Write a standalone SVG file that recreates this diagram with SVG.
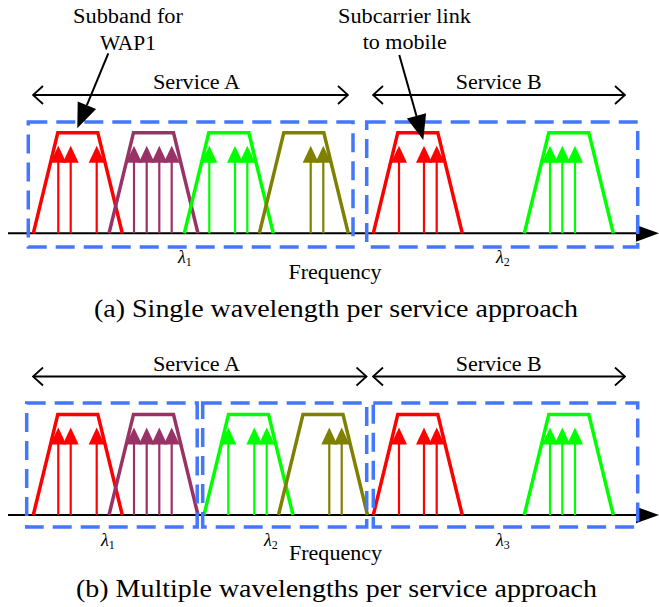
<svg xmlns="http://www.w3.org/2000/svg" xmlns:xlink="http://www.w3.org/1999/xlink" width="659" height="607" viewBox="0 0 659 607" font-family="'Times New Roman', 'Liberation Serif', Times, serif">
  <style>
    text { font-family: "Times New Roman", "Liberation Serif", Times, serif; fill: #000; }
    .lbl { font-size: 20px; }
    .cap { font-size: 26px; }
    .lam { font-size: 18px; font-style: italic; }
    .sub { font-size: 12px; font-style: normal; }
    .axis { stroke: #000; stroke-width: 2; fill: none; }
    .span { stroke: #000; stroke-width: 1.8; fill: none; }
    .box { stroke: #4477ff; stroke-width: 3.5; fill: none; stroke-dasharray: 19 9; }
    .red { color: #ff0000; }
    .pur { color: #993366; }
    .grn { color: #00ff00; }
    .olv { color: #808000; }
  </style>
  <defs>
    <!-- filter passband outline, anchored at its lower-left foot on the axis -->
    <path id="band" d="M0,0 L24.5,-100.6 L64.5,-100.6 L89,0" fill="none" stroke="currentColor" stroke-width="3.5" stroke-linejoin="miter"/>
    <!-- single subcarrier: stem plus filled head -->
    <g id="carrier">
      <line x1="0" y1="0" x2="0" y2="-72" stroke="currentColor" stroke-width="2.2"/>
      <path d="M-8,-70.6 L0,-87.6 L8,-70.6 Z" fill="currentColor"/>
    </g>
    <marker id="open" viewBox="0 0 12 20" refX="11" refY="10" markerWidth="12" markerHeight="20" markerUnits="userSpaceOnUse" orient="auto-start-reverse">
      <path d="M1,1 L11,10 L1,19" fill="none" stroke="#000" stroke-width="1.8"/>
    </marker>
  </defs>

  <!-- ===== (a) single wavelength per service ===== -->
  <g id="panel-a">
    <g id="a-axis">
      <line class="axis" x1="8" y1="233.3" x2="640" y2="233.3"/>
      <path d="M636,225 L659,233.3 L636,241.7 Z" fill="#000"/>
    </g>

    <g id="a-band-red" class="red" transform="translate(0,233.3)">
      <use xlink:href="#band" x="33.3"/>
      <use xlink:href="#carrier" x="58.3"/>
      <use xlink:href="#carrier" x="70.7"/>
      <use xlink:href="#carrier" x="96.7"/>
    </g>
    <g id="a-band-purple" class="pur" transform="translate(0,233.3)">
      <use xlink:href="#band" x="109"/>
      <use xlink:href="#carrier" x="134"/>
      <use xlink:href="#carrier" x="146.7"/>
      <use xlink:href="#carrier" x="159.3"/>
      <use xlink:href="#carrier" x="171.7"/>
    </g>
    <g id="a-band-green" class="grn" transform="translate(0,233.3)">
      <use xlink:href="#band" x="184.3"/>
      <use xlink:href="#carrier" x="209.3"/>
      <use xlink:href="#carrier" x="235"/>
      <use xlink:href="#carrier" x="247.3"/>
    </g>
    <g id="a-band-olive" class="olv" transform="translate(0,233.3)">
      <use xlink:href="#band" x="259.3"/>
      <use xlink:href="#carrier" x="310.7"/>
      <use xlink:href="#carrier" x="323.3"/>
    </g>
    <g id="a-band-red-b" class="red" transform="translate(0,233.3)">
      <use xlink:href="#band" x="373.3"/>
      <use xlink:href="#carrier" x="399"/>
      <use xlink:href="#carrier" x="424"/>
      <use xlink:href="#carrier" x="436.7"/>
    </g>
    <g id="a-band-green-b" class="grn" transform="translate(0,233.3)">
      <use xlink:href="#band" x="524.3"/>
      <use xlink:href="#carrier" x="550"/>
      <use xlink:href="#carrier" x="562.3"/>
      <use xlink:href="#carrier" x="575"/>
    </g>

    <g id="a-lambda1">
      <rect class="box" x="28.3" y="122" width="324.7" height="125"/>
      <text class="lam" x="178" y="263">λ<tspan class="sub" dy="3">1</tspan></text>
    </g>
    <g id="a-lambda2">
      <rect class="box" x="366.7" y="122" width="271" height="125"/>
      <text class="lam" x="496" y="263">λ<tspan class="sub" dy="3">2</tspan></text>
    </g>

    <g id="a-service-a">
      <line class="span" x1="33" y1="95" x2="348" y2="95" marker-start="url(#open)" marker-end="url(#open)"/>
      <text class="lbl" x="153" y="89" textLength="87" lengthAdjust="spacingAndGlyphs">Service A</text>
    </g>
    <g id="a-service-b">
      <line class="span" x1="373" y1="95" x2="625" y2="95" marker-start="url(#open)" marker-end="url(#open)"/>
      <text class="lbl" x="455.7" y="89" textLength="86" lengthAdjust="spacingAndGlyphs">Service B</text>
    </g>

    <g id="a-note-subband">
      <text class="lbl" x="73" y="23.3" textLength="110" lengthAdjust="spacingAndGlyphs">Subband for</text>
      <text class="lbl" x="100" y="50" textLength="56" lengthAdjust="spacingAndGlyphs">WAP1</text>
    </g>
    <g id="a-note-subcarrier">
      <text class="lbl" x="338" y="22.7" textLength="133" lengthAdjust="spacingAndGlyphs">Subcarrier link</text>
      <text class="lbl" x="362.7" y="49.3" textLength="84" lengthAdjust="spacingAndGlyphs">to mobile</text>
    </g>

    <text class="lbl" x="288.5" y="278.5" textLength="93" lengthAdjust="spacingAndGlyphs">Frequency</text>
    <text class="cap" x="94" y="317" textLength="484" lengthAdjust="spacingAndGlyphs">(a) Single wavelength per service approach</text>
  </g>

  <!-- callout pointers -->
  <g id="connectors">
    <line x1="108.3" y1="53.3" x2="86.9" y2="105.2" stroke="#000" stroke-width="2"/>
    <path d="M77.3,128.3 L96.1,109 L77.7,101.4 Z" fill="#000"/>
    <line x1="399.3" y1="55" x2="416.5" y2="115.9" stroke="#000" stroke-width="2"/>
    <path d="M423.3,140 L426.1,113.2 L406.9,118.6 Z" fill="#000"/>
  </g>

  <!-- ===== (b) multiple wavelengths per service ===== -->
  <g id="panel-b">
    <g id="b-axis">
      <line class="axis" x1="8" y1="515" x2="640" y2="515"/>
      <path d="M636,506.7 L659,515 L636,523.3 Z" fill="#000"/>
    </g>

    <g id="b-band-red" class="red" transform="translate(0,515)">
      <use xlink:href="#band" x="33.3"/>
      <use xlink:href="#carrier" x="58.3"/>
      <use xlink:href="#carrier" x="70.7"/>
      <use xlink:href="#carrier" x="96.7"/>
    </g>
    <g id="b-band-purple" class="pur" transform="translate(0,515)">
      <use xlink:href="#band" x="109"/>
      <use xlink:href="#carrier" x="134"/>
      <use xlink:href="#carrier" x="146.7"/>
      <use xlink:href="#carrier" x="159.3"/>
      <use xlink:href="#carrier" x="171.7"/>
    </g>
    <g id="b-band-green" class="grn" transform="translate(0,515)">
      <use xlink:href="#band" x="204"/>
      <use xlink:href="#carrier" x="228.3"/>
      <use xlink:href="#carrier" x="254.3"/>
      <use xlink:href="#carrier" x="266.7"/>
    </g>
    <g id="b-band-olive" class="olv" transform="translate(0,515)">
      <use xlink:href="#band" x="278.5"/>
      <use xlink:href="#carrier" x="329.3"/>
      <use xlink:href="#carrier" x="341.7"/>
    </g>
    <g id="b-band-red-b" class="red" transform="translate(0,515)">
      <use xlink:href="#band" x="373.3"/>
      <use xlink:href="#carrier" x="399"/>
      <use xlink:href="#carrier" x="424"/>
      <use xlink:href="#carrier" x="436.7"/>
    </g>
    <g id="b-band-green-b" class="grn" transform="translate(0,515)">
      <use xlink:href="#band" x="524.3"/>
      <use xlink:href="#carrier" x="550"/>
      <use xlink:href="#carrier" x="562.3"/>
      <use xlink:href="#carrier" x="575"/>
    </g>

    <g id="b-lambda1">
      <rect class="box" x="26.7" y="403" width="170.5" height="124"/>
      <text class="lam" x="101" y="546">λ<tspan class="sub" dy="3">1</tspan></text>
    </g>
    <g id="b-lambda2">
      <rect class="box" x="202.7" y="403" width="164" height="124"/>
      <text class="lam" x="264" y="546">λ<tspan class="sub" dy="3">2</tspan></text>
    </g>
    <g id="b-lambda3">
      <rect class="box" x="373.3" y="403" width="264.4" height="124"/>
      <text class="lam" x="496" y="546">λ<tspan class="sub" dy="3">3</tspan></text>
    </g>

    <g id="b-service-a">
      <line class="span" x1="33" y1="376.5" x2="366.5" y2="376.5" marker-start="url(#open)" marker-end="url(#open)"/>
      <text class="lbl" x="153" y="370.5" textLength="87" lengthAdjust="spacingAndGlyphs">Service A</text>
    </g>
    <g id="b-service-b">
      <line class="span" x1="373" y1="376.5" x2="625" y2="376.5" marker-start="url(#open)" marker-end="url(#open)"/>
      <text class="lbl" x="455.7" y="370.5" textLength="86" lengthAdjust="spacingAndGlyphs">Service B</text>
    </g>

    <text class="lbl" x="289" y="559.5" textLength="93" lengthAdjust="spacingAndGlyphs">Frequency</text>
    <text class="cap" x="76" y="597" textLength="521" lengthAdjust="spacingAndGlyphs">(b) Multiple wavelengths per service approach</text>
  </g>
</svg>
